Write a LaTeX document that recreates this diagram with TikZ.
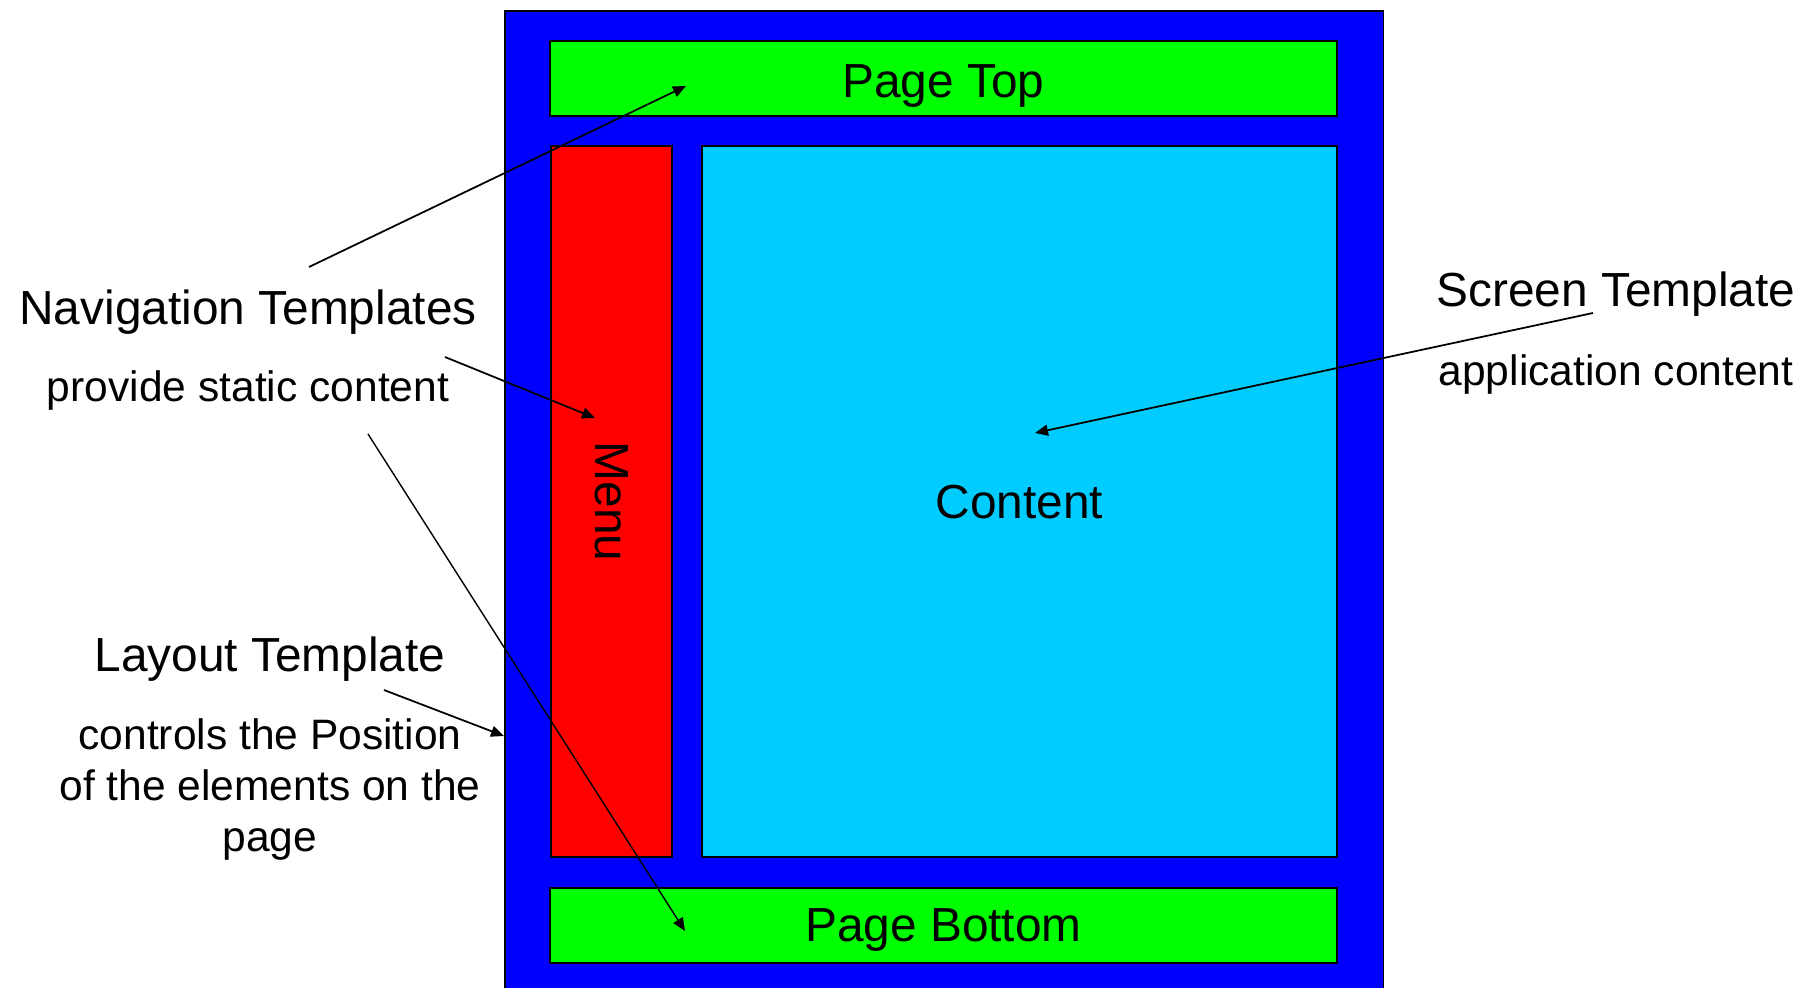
\documentclass[tikz,border=0pt]{standalone}
\usepackage{fontspec}
\setmainfont{Liberation Sans}
\usetikzlibrary{arrows.meta, positioning}
\definecolor{frameblue}{RGB}{0,0,255}
\definecolor{bargreen}{RGB}{0,255,0}
\definecolor{menured}{RGB}{255,0,0}
\definecolor{contentcyan}{RGB}{0,204,255}

\begin{document}
\begin{tikzpicture}[
                x=0.01cm, y=-0.01cm,
                pane/.style = {draw, line width=0.6pt, inner sep=0pt, text depth=0pt,
                               font=\fontsize{13.6}{16}\selectfont},
                title/.style = {anchor=base, inner sep=0pt, font=\fontsize{13.6}{16}\selectfont},
                note/.style = {anchor=base, inner sep=0pt, align=center,
                               font=\fontsize{12.1}{14.5}\selectfont},
                arrow/.style = {-{Triangle[length=1.3mm, width=1.1mm]}, line width=0.5pt}
              ]
              \useasboundingbox (0,0) rectangle (1814,988);
              % Page layout
              \node[pane, fill=frameblue, line width=0.5pt, anchor=north west,
                    minimum width=8.78cm, minimum height=10cm] (frame) at (504,10) {};
              \node[pane, fill=bargreen, minimum width=7.87cm, minimum height=0.75cm] (pagetop) at (943.5,78.5) {\raisebox{-1.5pt}{Page Top}};
              \node[pane, fill=menured, rotate=-90, minimum width=7.11cm, minimum height=1.21cm] (menu) at (611.5,501.5) {Menu};
              \node[pane, fill=contentcyan, minimum width=6.35cm, minimum height=7.11cm] (content) at (1019.5,501.5) {Content};
              \node[pane, fill=bargreen, minimum width=7.87cm, minimum height=0.75cm] (pagebottom) at (943.5,925.5) {Page Bottom};
              % Labels
              \node[title] (nav) at (248,324) {Navigation Templates};
              \node[note] (navnote) at (248,402) {provide static content};
              \node[title] (screen) at (1616,307) {Screen Template};
              \node[note] (screennote) at (1616,386) {application content};
              \node[title] (layout) at (270,671) {Layout Template};
              \node[note, anchor=north] (layoutnote) at (270,718) {controls the Position\\of the elements on the\\page};
              % Arrow ends
              \coordinate (navtop) at (309,267);
              \coordinate (navmenu) at (445,357);
              \coordinate (navbottom) at (368,434);
              \coordinate (layoutfrom) at (384,690);
              \coordinate (screenfrom) at (1593,313);
              \coordinate (topend) at (686,86);
              \coordinate (menuend) at (595,418);
              \coordinate (bottomend) at (685,931);
              \coordinate (frameend) at (504,736);
              \coordinate (contentend) at (1035,433);
              % Arrows
              \draw[arrow] (navtop) -- (topend);
              \draw[arrow] (navmenu) -- (menuend);
              \draw[arrow, line width=0.4pt] (navbottom) -- (bottomend);
              \draw[arrow] (layoutfrom) -- (frameend);
              \draw[arrow] (screenfrom) -- (contentend);
            \end{tikzpicture}
\end{document}
